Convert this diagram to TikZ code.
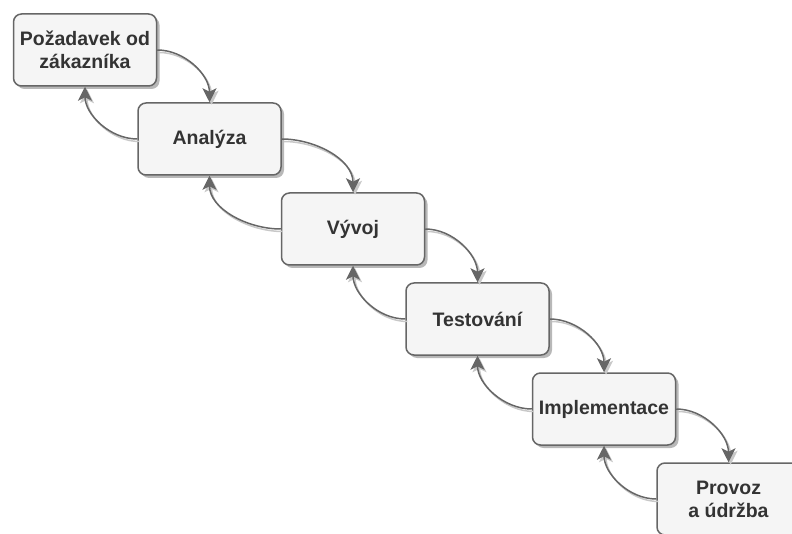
\documentclass[tikz,border=0pt]{standalone}
\usepackage{fontspec}
\setmainfont{Liberation Sans}
\usetikzlibrary{arrows.meta,shadows}
\definecolor{boxfill}{HTML}{F5F5F5}
\definecolor{boxline}{HTML}{666666}
\definecolor{boxtext}{HTML}{333333}
\definecolor{shadowgray}{HTML}{C8C8C8}
\tikzset{
  phase/.style={draw=boxline, fill=boxfill, line width=1.5pt, rounded corners=8pt,
    minimum width=143pt, minimum height=72pt, inner sep=0pt, align=center,
    text=boxtext, font=\fontsize{19.5}{23}\selectfont\bfseries,
    drop shadow={shadow xshift=3pt, shadow yshift=-3pt, fill=black, opacity=0.28}},
  flow/.style={draw=boxline, line width=1.5pt,
    -{Stealth[length=14pt, width=14pt, inset=3.5pt]}},
  flowshadow/.style={draw=shadowgray, line width=1.5pt,
    -{Stealth[length=14pt, width=14pt, inset=3.5pt]},
    transform canvas={shift={(2pt,-2.5pt)}}}
}
\begin{document}
\begin{tikzpicture}[x=1pt, y=-1pt]
  \useasboundingbox (0,0) rectangle (792,534);
  \clip (0,0) rectangle (792,534);

  % phases of the process
  \node[phase] (p1) at (85,50)    {Požadavek od\\zákazníka};
  \node[phase] (p2) at (209.5,139) {Analýza};
  \node[phase] (p3) at (353,229)  {Vývoj};
  \node[phase] (p4) at (477.5,319) {Testování};
  \node[phase] (p5) at (604,409)  {Implementace};
  \node[phase] (p6) at (728.5,499) {Provoz\\a údržba};

  % forward and feedback connectors between consecutive phases
  \foreach \a/\b in {p1/p2, p2/p3, p3/p4, p4/p5, p5/p6}{
    \draw[flowshadow] (\a.east) to[out=0, in=90, looseness=0.95] (\b.north);
    \draw[flowshadow] (\b.west) to[out=180, in=-90, looseness=0.95] (\a.south);
    \draw[flow] (\a.east) to[out=0, in=90, looseness=0.95] (\b.north);
    \draw[flow] (\b.west) to[out=180, in=-90, looseness=0.95] (\a.south);
  }
\end{tikzpicture}
\end{document}
